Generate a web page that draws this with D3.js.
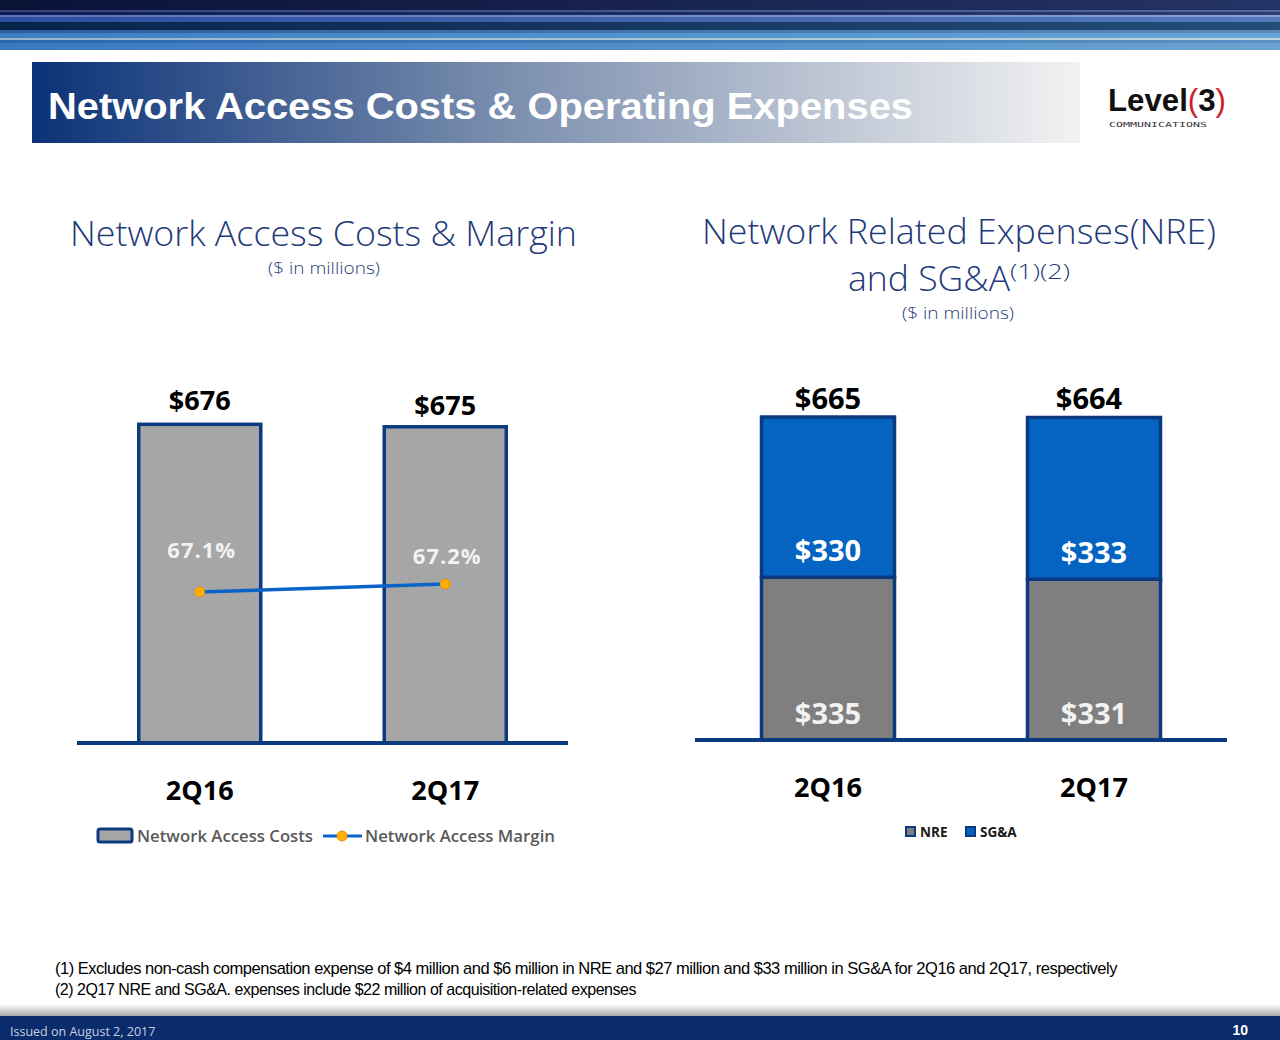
<!DOCTYPE html>
<html><head><meta charset="utf-8">
<script src="https://cdn.jsdelivr.net/npm/d3@7"></script>
<style>body{margin:0;background:#fff;}svg{display:block;}</style>
</head><body>
<script>
const categories = ["2Q16", "2Q17"];
const networkAccessCosts = [676, 675];
const networkAccessMargin = [67.1, 67.2];
const nre = [335, 331];
const sga = [330, 333];
const totals = [665, 664];
const leftLegend = ["Network Access Costs", "Network Access Margin"];
const rightLegend = ["NRE", "SG&A"];

const W = 1280, H = 1040;
const svg = d3.select("body").append("svg").attr("width", W).attr("height", H);
const defs = svg.append("defs");

// top banner stripes
const stripes = [
  [0,10,"#0a1236","#243466"],[10,12,"#34447a","#56689a"],[12,15,"#0f1e52","#2a3c72"],
  [15,17,"#5a74b8","#8ea2d0"],[17,22,"#2c4f9e","#5478bc"],[22,30,"#08234a","#244e78"],
  [30,33,"#2c5e9a","#5a88b8"],[33,38,"#3a7fc4","#66a8d8"],[38,40,"#9ab6cc","#c0d4e0"],
  [40,43,"#2d66ac","#5a92c6"],[43,50,"#3a78c0","#6aa4d0"]
];
stripes.forEach((s,i)=>{
  const g = defs.append("linearGradient").attr("id","sg"+i);
  g.append("stop").attr("offset","0").attr("stop-color",s[2]);
  g.append("stop").attr("offset","1").attr("stop-color",s[3]);
  svg.append("rect").attr("x",0).attr("y",s[0]).attr("width",W).attr("height",s[1]-s[0]).attr("fill","url(#sg"+i+")");
});

// title bar
const tg = defs.append("linearGradient").attr("id","tg");
tg.append("stop").attr("offset","0").attr("stop-color","#0b3278");
tg.append("stop").attr("offset","0.45").attr("stop-color","#7a8eae");
tg.append("stop").attr("offset","1").attr("stop-color","#f2f2f2");
svg.append("rect").attr("x",32).attr("y",62).attr("width",1048).attr("height",81).attr("fill","url(#tg)");
svg.append("text").attr("x",48).attr("y",119).attr("fill","#fff")
  .attr("textLength",865).attr("lengthAdjust","spacingAndGlyphs")
  .style("font-family","Liberation Sans, Arial").style("font-weight","bold").style("font-size","37px")
  .text("Network Access Costs & Operating Expenses");

// logo
const logo = svg.append("text").attr("x",1108).attr("y",111)
  .attr("textLength",118).attr("lengthAdjust","spacingAndGlyphs")
  .style("font-family","Liberation Sans, Arial").style("font-weight","bold").style("font-size","31px");
logo.append("tspan").attr("fill","#111").text("Level");
logo.append("tspan").attr("fill","#d0202a").style("font-weight","normal").text("(");
logo.append("tspan").attr("fill","#111").text("3");
logo.append("tspan").attr("fill","#d0202a").style("font-weight","normal").text(")");
svg.append("text").attr("x",1109).attr("y",127).attr("fill","#333")
  .attr("textLength",98).attr("lengthAdjust","spacingAndGlyphs")
  .style("font-family","DejaVu Sans Mono, monospace").style("font-size","7px")
  .text("COMMUNICATIONS");

const navy = "#1f3a7a";
const font = "Open Sans, sans-serif";

// subtitles
svg.append("text").attr("x",70).attr("y",246).attr("textLength",507).attr("lengthAdjust","spacingAndGlyphs").attr("fill",navy)
  .style("font-family",font).style("font-size","35px").style("font-weight","300")
  .text("Network Access Costs & Margin");
svg.append("text").attr("x",268).attr("y",274).attr("textLength",112).attr("lengthAdjust","spacingAndGlyphs").attr("fill",navy)
  .style("font-family",font).style("font-size","17px").style("font-weight","300")
  .text("($ in millions)");
svg.append("text").attr("x",702).attr("y",244).attr("textLength",514).attr("lengthAdjust","spacingAndGlyphs").attr("fill",navy)
  .style("font-family",font).style("font-size","35px").style("font-weight","300")
  .text("Network Related Expenses(NRE)");
svg.append("text").attr("x",848).attr("y",291).attr("textLength",162).attr("lengthAdjust","spacingAndGlyphs").attr("fill",navy)
  .style("font-family",font).style("font-size","35px").style("font-weight","300")
  .text("and SG&A");
svg.append("text").attr("x",1010).attr("y",279).attr("textLength",60).attr("lengthAdjust","spacingAndGlyphs").attr("fill",navy)
  .style("font-family",font).style("font-size","20px").style("font-weight","300")
  .text("(1)(2)");
svg.append("text").attr("x",902).attr("y",319).attr("textLength",112).attr("lengthAdjust","spacingAndGlyphs").attr("fill",navy)
  .style("font-family",font).style("font-size","17px").style("font-weight","300")
  .text("($ in millions)");

const barStroke = "#0b3a80";

// LEFT CHART
const xL = d3.scalePoint().domain(categories).range([77,568]).padding(0.5);
const yL = d3.scaleLinear().domain([0,700]).range([743,413]);
const yM = d3.scaleLinear().domain([65.2,67.2]).range([743,584]);
const bwL = 122;
const gL = svg.append("g");
gL.selectAll("rect.bar").data(categories).join("rect")
  .attr("x",d=>xL(d)-bwL/2).attr("width",bwL)
  .attr("y",(d,i)=>yL(networkAccessCosts[i])+i*2).attr("height",(d,i)=>yL(0)-yL(networkAccessCosts[i])-i*2)
  .attr("fill","#a6a6a6").attr("stroke",barStroke).attr("stroke-width",3.5);
gL.append("line").attr("x1",77).attr("x2",568).attr("y1",yL(0)).attr("y2",yL(0))
  .attr("stroke",barStroke).attr("stroke-width",4);
gL.selectAll("text.val").data(categories).join("text")
  .attr("x",d=>xL(d)).attr("y",(d,i)=>yL(networkAccessCosts[i])-14+i*4).attr("text-anchor","middle")
  .style("font-family",font).style("font-weight","bold").style("font-size","27px").attr("fill","#000")
  .text((d,i)=>"$"+networkAccessCosts[i]);
gL.selectAll("text.pct").data(categories).join("text")
  .attr("x",d=>xL(d)+2).attr("y",(d,i)=>yL(networkAccessCosts[i])+134+i*5).attr("text-anchor","middle")
  .style("font-family",font).style("font-weight","bold").style("font-size","22px").attr("fill","#f2f2f2")
  .attr("letter-spacing","1")
  .text((d,i)=>networkAccessMargin[i].toFixed(1)+"%");
const line = d3.line().x((d,i)=>xL(categories[i])).y(d=>yM(d));
gL.append("path").attr("d",line(networkAccessMargin)).attr("fill","none").attr("stroke","#0a64c8").attr("stroke-width",3.5);
gL.selectAll("circle").data(networkAccessMargin).join("circle")
  .attr("cx",(d,i)=>xL(categories[i])).attr("cy",d=>yM(d)).attr("r",5)
  .attr("fill","#ffb000").attr("stroke","#f08c00").attr("stroke-width",1);
gL.selectAll("text.cat").data(categories).join("text")
  .attr("x",d=>xL(d)).attr("y",800).attr("text-anchor","middle")
  .style("font-family",font).style("font-weight","bold").style("font-size","27px").attr("fill","#000")
  .text(d=>d);
// left legend
gL.append("rect").attr("x",98).attr("y",829).attr("width",34).attr("height",13).attr("rx",2)
  .attr("fill","#a6a6a6").attr("stroke",barStroke).attr("stroke-width",3);
gL.append("text").attr("x",137).attr("y",842).attr("textLength",176).attr("lengthAdjust","spacingAndGlyphs")
  .style("font-family",font).style("font-weight","600")
  .style("font-size","16.5px").attr("fill","#595959").text(leftLegend[0]);
gL.append("line").attr("x1",323).attr("x2",362).attr("y1",836).attr("y2",836).attr("stroke","#0a64c8").attr("stroke-width",3);
gL.append("circle").attr("cx",342).attr("cy",836).attr("r",5).attr("fill","#ffb000").attr("stroke","#f08c00");
gL.append("text").attr("x",365).attr("y",842).attr("textLength",190).attr("lengthAdjust","spacingAndGlyphs")
  .style("font-family",font).style("font-weight","600")
  .style("font-size","16.5px").attr("fill","#595959").text(leftLegend[1]);

// RIGHT CHART
const xR = d3.scalePoint().domain(categories).range([695,1227]).padding(0.5);
const yR = d3.scaleLinear().domain([0,700]).range([740,400]);
const bwR = 133;
const gR = svg.append("g");
const stackData = categories.map((c,i)=>({cat:c, NRE:nre[i], "SG&A":sga[i]}));
const stack = d3.stack().keys(["NRE","SG&A"])(stackData);
const colors = {"NRE":"#7f7f7f","SG&A":"#0563c1"};
stack.forEach(layer=>{
  gR.selectAll(null).data(layer).join("rect")
    .attr("x",d=>xR(d.data.cat)-bwR/2).attr("width",bwR)
    .attr("y",d=>yR(d[1])).attr("height",d=>yR(d[0])-yR(d[1]))
    .attr("fill",colors[layer.key]).attr("stroke",barStroke).attr("stroke-width",3.5);
});
gR.append("line").attr("x1",695).attr("x2",1227).attr("y1",yR(0)).attr("y2",yR(0))
  .attr("stroke",barStroke).attr("stroke-width",4);
gR.selectAll("text.tot").data(categories).join("text")
  .attr("x",(d,i)=>xR(d)-i*5).attr("y",(d,i)=>yR(totals[i])-8).attr("text-anchor","middle")
  .style("font-family",font).style("font-weight","bold").style("font-size","29px").attr("fill","#000")
  .text((d,i)=>"$"+totals[i]);
gR.selectAll("text.sga").data(categories).join("text")
  .attr("x",d=>xR(d)).attr("y",(d,i)=>yR(nre[i])-16).attr("text-anchor","middle")
  .style("font-family",font).style("font-weight","bold").style("font-size","29px").attr("fill","#fff")
  .text((d,i)=>"$"+sga[i]);
gR.selectAll("text.nre").data(categories).join("text")
  .attr("x",d=>xR(d)).attr("y",724).attr("text-anchor","middle")
  .style("font-family",font).style("font-weight","bold").style("font-size","29px").attr("fill","#f2f2f2")
  .text((d,i)=>"$"+nre[i]);
gR.selectAll("text.cat").data(categories).join("text")
  .attr("x",d=>xR(d)).attr("y",797).attr("text-anchor","middle")
  .style("font-family",font).style("font-weight","bold").style("font-size","27px").attr("fill","#000")
  .text(d=>d);
// right legend
const legR = [[906, rightLegend[0], "#7f7f7f"],[966, rightLegend[1], "#0563c1"]];
legR.forEach(l=>{
  gR.append("rect").attr("x",l[0]).attr("y",827).attr("width",9).attr("height",9)
    .attr("fill",l[2]).attr("stroke",barStroke).attr("stroke-width",2);
  gR.append("text").attr("x",l[0]+14).attr("y",837).style("font-family",font).style("font-weight","bold")
    .style("font-size","13.5px").attr("fill","#1a1a1a").text(l[1]);
});

// footnotes
const fnFont = "Liberation Sans, Arial";
svg.append("text").attr("x",55).attr("y",974).attr("textLength",1062).attr("lengthAdjust","spacingAndGlyphs")
  .style("font-family",fnFont).style("font-size","17px").attr("fill","#000").attr("letter-spacing","-0.5")
  .text("(1) Excludes non-cash compensation expense of $4 million and $6 million in NRE and $27 million and $33 million in SG&A for 2Q16 and 2Q17, respectively");
svg.append("text").attr("x",55).attr("y",995).attr("textLength",581).attr("lengthAdjust","spacingAndGlyphs")
  .style("font-family",fnFont).style("font-size","17px").attr("fill","#000").attr("letter-spacing","-0.5")
  .text("(2) 2Q17 NRE and SG&A. expenses include $22 million of acquisition-related expenses");

// footer
const fg = defs.append("linearGradient").attr("id","fg").attr("x1",0).attr("y1",0).attr("x2",0).attr("y2",1);
fg.append("stop").attr("offset","0").attr("stop-color","#ffffff");
fg.append("stop").attr("offset","1").attr("stop-color","#9a9a9a");
svg.append("rect").attr("x",0).attr("y",1004).attr("width",W).attr("height",14).attr("fill","url(#fg)");
svg.append("rect").attr("x",0).attr("y",1016).attr("width",W).attr("height",24).attr("fill","#0b2c6c");
svg.append("text").attr("x",10).attr("y",1036).attr("fill","#c8d0e0")
  .style("font-family",font).style("font-size","12.5px").text("Issued on August 2, 2017");
svg.append("text").attr("x",1248).attr("y",1035).attr("text-anchor","end").attr("fill","#fff")
  .style("font-family","Liberation Sans, Arial").style("font-weight","bold").style("font-size","14px").text("10");
</script>
</body></html>
